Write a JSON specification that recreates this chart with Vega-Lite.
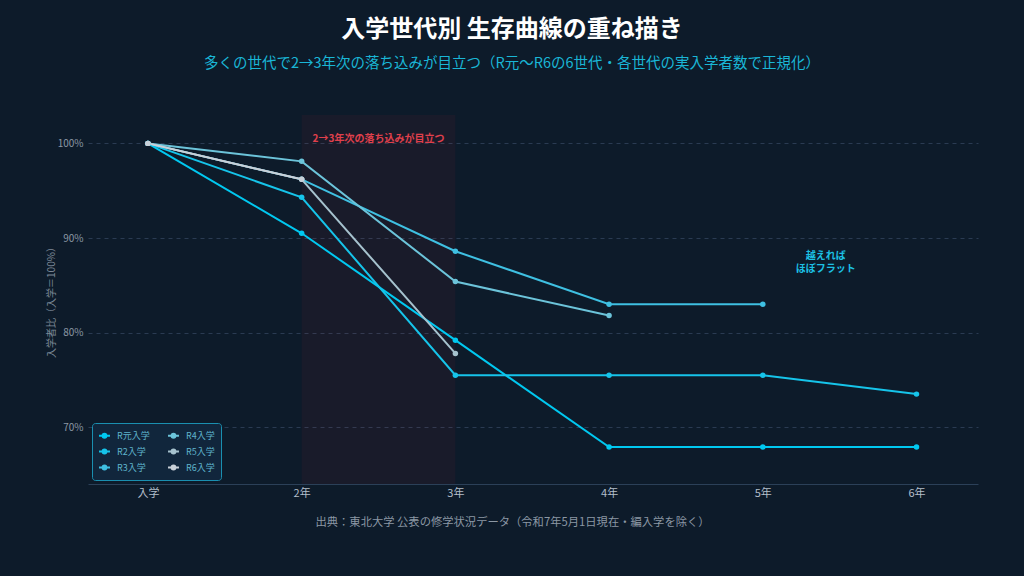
{
  "$schema": "https://vega.github.io/schema/vega-lite/v6.json",
  "background": "#0d1b2a",
  "autosize": "none",
  "width": 890,
  "height": 369,
  "padding": {"left": 88, "top": 115, "right": 46, "bottom": 92},
  "title": {
    "text": "入学世代別 生存曲線の重ね描き",
    "subtitle": "多くの世代で2→3年次の落ち込みが目立つ（R元〜R6の6世代・各世代の実入学者数で正規化）",
    "anchor": "middle",
    "dx": -21,
    "offset": 45,
    "font": "Noto Sans CJK JP",
    "fontSize": 24,
    "fontWeight": "bold",
    "color": "#ffffff",
    "subtitleFont": "Noto Sans CJK JP",
    "subtitleFontSize": 14.5,
    "subtitleColor": "#1ab6d6",
    "subtitlePadding": 15
  },
  "datasets": {
    "cohorts": [
      {"cohort": "R元入学", "step": 0, "year": "入学", "pct": 100},
      {"cohort": "R元入学", "step": 1, "year": "2年", "pct": 90.5},
      {"cohort": "R元入学", "step": 2, "year": "3年", "pct": 79.2},
      {"cohort": "R元入学", "step": 3, "year": "4年", "pct": 67.9},
      {"cohort": "R元入学", "step": 4, "year": "5年", "pct": 67.9},
      {"cohort": "R元入学", "step": 5, "year": "6年", "pct": 67.9},
      {"cohort": "R2入学", "step": 0, "year": "入学", "pct": 100},
      {"cohort": "R2入学", "step": 1, "year": "2年", "pct": 94.3},
      {"cohort": "R2入学", "step": 2, "year": "3年", "pct": 75.5},
      {"cohort": "R2入学", "step": 3, "year": "4年", "pct": 75.5},
      {"cohort": "R2入学", "step": 4, "year": "5年", "pct": 75.5},
      {"cohort": "R2入学", "step": 5, "year": "6年", "pct": 73.5},
      {"cohort": "R3入学", "step": 0, "year": "入学", "pct": 100},
      {"cohort": "R3入学", "step": 1, "year": "2年", "pct": 96.2},
      {"cohort": "R3入学", "step": 2, "year": "3年", "pct": 88.6},
      {"cohort": "R3入学", "step": 3, "year": "4年", "pct": 83.0},
      {"cohort": "R3入学", "step": 4, "year": "5年", "pct": 83.0},
      {"cohort": "R4入学", "step": 0, "year": "入学", "pct": 100},
      {"cohort": "R4入学", "step": 1, "year": "2年", "pct": 98.1},
      {"cohort": "R4入学", "step": 2, "year": "3年", "pct": 85.4},
      {"cohort": "R4入学", "step": 3, "year": "4年", "pct": 81.8},
      {"cohort": "R5入学", "step": 0, "year": "入学", "pct": 100},
      {"cohort": "R5入学", "step": 1, "year": "2年", "pct": 96.2},
      {"cohort": "R5入学", "step": 2, "year": "3年", "pct": 77.8},
      {"cohort": "R6入学", "step": 0, "year": "入学", "pct": 100},
      {"cohort": "R6入学", "step": 1, "year": "2年", "pct": 96.2}
    ],
    "band": [{"from": 1, "to": 2}],
    "notes": [
      {"step": 1.5, "pct": 100.5, "label": "2→3年次の落ち込みが目立つ", "kind": "drop"},
      {"step": 4.41, "pct": 88.1, "label": "越えれば\nほぼフラット", "kind": "flat"}
    ]
  },
  "encoding": {
    "x": {
      "field": "step",
      "type": "quantitative",
      "scale": {"domain": [-0.39, 5.4], "nice": false, "zero": false},
      "axis": {
        "values": [0, 1, 2, 3, 4, 5],
        "labelExpr": "['入学','2年','3年','4年','5年','6年'][datum.value]",
        "title": "出典：東北大学 公表の修学状況データ（令和7年5月1日現在・編入学を除く）",
        "titleX": 424,
        "titleFont": "Noto Sans CJK JP",
        "titleFontSize": 11.3,
        "titleFontWeight": "normal",
        "titleColor": "#8b97a4",
        "titlePadding": 18,
        "labelFont": "Noto Sans CJK JP",
        "labelFontSize": 11,
        "labelColor": "#b3bfca",
        "labelPadding": 3,
        "ticks": false,
        "grid": false,
        "domainColor": "#2b4058",
        "domainWidth": 1
      }
    },
    "y": {
      "field": "pct",
      "type": "quantitative",
      "scale": {"domain": [64, 103], "nice": false, "zero": false},
      "axis": {
        "values": [70, 80, 90, 100],
        "labelExpr": "datum.value + '%'",
        "title": "入学者比（入学＝100%）",
        "titleFont": "Noto Sans CJK JP",
        "titleFontSize": 10,
        "titleFontWeight": "normal",
        "titleColor": "#7d8a98",
        "titlePadding": 1,
        "labelFont": "Noto Sans CJK JP",
        "labelFontSize": 10,
        "labelColor": "#8b97a4",
        "labelPadding": 5,
        "ticks": false,
        "domain": false,
        "grid": true,
        "gridColor": "#2a3b52",
        "gridDash": [4, 4],
        "gridWidth": 1
      }
    }
  },
  "layer": [
    {
      "data": {"name": "band"},
      "mark": {"type": "rect", "fill": "#ff3040", "opacity": 0.05},
      "encoding": {
        "x": {"field": "from", "type": "quantitative"},
        "x2": {"field": "to"},
        "y": null
      }
    },
    {
      "data": {"name": "cohorts"},
      "mark": {
        "type": "line",
        "strokeWidth": 2,
        "point": {"filled": true, "size": 30}
      },
      "encoding": {
        "color": {
          "field": "cohort",
          "type": "nominal",
          "scale": {
            "domain": ["R元入学", "R2入学", "R3入学", "R4入学", "R5入学", "R6入学"],
            "range": ["#00c8f0", "#16c4ea", "#3fc0e2", "#6cc4da", "#a6c2ce", "#c8d0d8"]
          },
          "legend": {
            "orient": "bottom-left",
            "offset": 4,
            "title": null,
            "columns": 2,
            "columnPadding": 14,
            "rowPadding": 3,
            "padding": 6,
            "fillColor": "#11263c",
            "strokeColor": "#1a8fb0",
            "cornerRadius": 3,
            "symbolType": "M-1,0L1,0M-0.35,0A0.35,0.35 0 1,1 0.35,0A0.35,0.35 0 1,1 -0.35,0Z",
            "symbolSize": 120,
            "symbolStrokeWidth": 2,
            "labelFont": "Noto Sans CJK JP",
            "labelFontSize": 9,
            "labelColor": "#5fb4cc",
            "labelOffset": 6
          }
        }
      }
    },
    {
      "data": {"name": "notes"},
      "transform": [{"filter": "datum.kind == 'drop'"}],
      "mark": {
        "type": "text",
        "font": "Noto Sans CJK JP",
        "fontSize": 10,
        "fontWeight": "bold",
        "align": "center",
        "baseline": "middle",
        "color": "#e0404c"
      },
      "encoding": {"text": {"field": "label"}}
    },
    {
      "data": {"name": "notes"},
      "transform": [{"filter": "datum.kind == 'flat'"}],
      "mark": {
        "type": "text",
        "font": "Noto Sans CJK JP",
        "fontSize": 10,
        "fontWeight": "bold",
        "align": "center",
        "baseline": "middle",
        "lineBreak": "\n",
        "lineHeight": 13,
        "color": "#1cc0e4"
      },
      "encoding": {"text": {"field": "label"}}
    }
  ],
  "config": {
    "view": {"stroke": null},
    "font": "Noto Sans CJK JP"
  }
}
